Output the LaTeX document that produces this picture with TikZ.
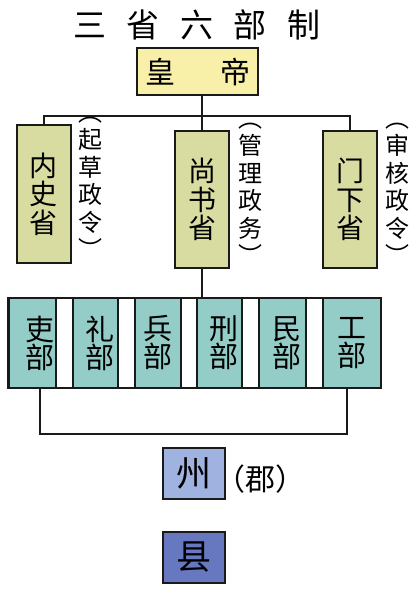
\documentclass[tikz,border=0pt]{standalone}
\usepackage{fontspec}
\setmainfont{Noto Sans CJK SC}
\definecolor{empfill}{HTML}{F8F0A8}
\definecolor{shengfill}{HTML}{D8DCA0}
\definecolor{bufill}{HTML}{94CCC8}
\definecolor{zhoufill}{HTML}{A0B2E0}
\definecolor{xianfill}{HTML}{6878C0}
\definecolor{linecol}{HTML}{1A1A1A}
\begin{document}
\begin{tikzpicture}[x=1pt,y=1pt,
  box/.style={draw=linecol,line width=1.6pt,inner sep=0pt,anchor=center},
  sheng/.style={box,fill=shengfill,minimum width=54pt,minimum height=137pt,align=center,font=\fontsize{28}{28.5}\selectfont},
  note/.style={inner sep=0pt,align=center,font=\fontsize{24}{27.5}\selectfont},
  bu/.style={box,fill=bufill,minimum height=90pt,align=center,font=\fontsize{29}{28}\selectfont},
  conn/.style={draw=linecol,line width=1.6pt}]
\useasboundingbox[fill=white] (0,0) rectangle (412,-592);
% title
\node[inner sep=0pt,font=\fontsize{33}{33}\selectfont] (title) at (197,-25) {三\hspace{20.5pt}省\hspace{20.5pt}六\hspace{20.5pt}部\hspace{20.5pt}制};
% emperor
\node[box,fill=empfill,minimum width=121pt,minimum height=47pt,font=\fontsize{30}{30}\selectfont] (emp) at (197.5,-71.5) {皇\hspace{45pt}帝};
% three departments
\node[sheng,minimum height=138pt] (nei) at (44,-194) {内\\史\\省};
\node[sheng] (shang) at (202,-199.5) {尚\\书\\省};
\node[sheng] (men) at (350,-199.5) {门\\下\\省};
\node[note] (nnei) at (90,-188) {︵\\起\\草\\政\\令\\︶};
\node[note] (nshang) at (250,-194) {︵\\管\\理\\政\\务\\︶};
\node[note] (nmen) at (397,-194) {︵\\审\\核\\政\\令\\︶};
% connectors top
\coordinate (bar) at (203,-116);
\draw[conn] (emp.south -| shang.north) -- (shang.north);
\draw[conn] (nei.north) -- (nei.north |- bar) -- (men.north |- bar) -- (men.north);
% six ministries
\node[box,fill=white,minimum width=373pt,minimum height=90pt] (six) at (194.5,-343) {};
\node[bu,minimum width=47pt] (li) at (32.5,-343) {\hspace{15pt}吏\\\hspace{15pt}部};
\node[bu,minimum width=45pt] (lii) at (95.5,-343) {\hspace{8pt}礼\\\hspace{8pt}部};
\node[bu,minimum width=46pt] (bing) at (158,-343) {兵\\部};
\node[bu,minimum width=45pt] (xing) at (219.5,-343) {\hspace{8pt}刑\\\hspace{8pt}部};
\node[bu,minimum width=47pt] (min) at (282.5,-343) {\hspace{8pt}民\\\hspace{8pt}部};
\node[bu,minimum width=58pt] (gong) at (352,-343) {工\hspace{6pt}\\部\hspace{6pt}};
\draw[conn] (shang.south) -- (shang.south |- six.north);
% bracket
\coordinate (br) at (194,-434);
\draw[conn] ([xshift=7.5pt]li.south) -- ([xshift=7.5pt]li.south |- br) -- ([xshift=-5pt]gong.south |- br) -- ([xshift=-5pt]gong.south);
% local
\node[box,fill=zhoufill,minimum width=62pt,minimum height=51pt,font=\fontsize{35}{35}\selectfont] (zhou) at (194,-473.5) {州};
\node[inner sep=0pt,anchor=west,font=\fontsize{30}{30}\selectfont] (jun) at ([xshift=-11pt,yshift=-6pt]zhou.east) {（郡）};
\node[box,fill=xianfill,minimum width=62pt,minimum height=51pt,font=\fontsize{35}{35}\selectfont] (xian) at (194,-557.5) {县};
\end{tikzpicture}
\end{document}
